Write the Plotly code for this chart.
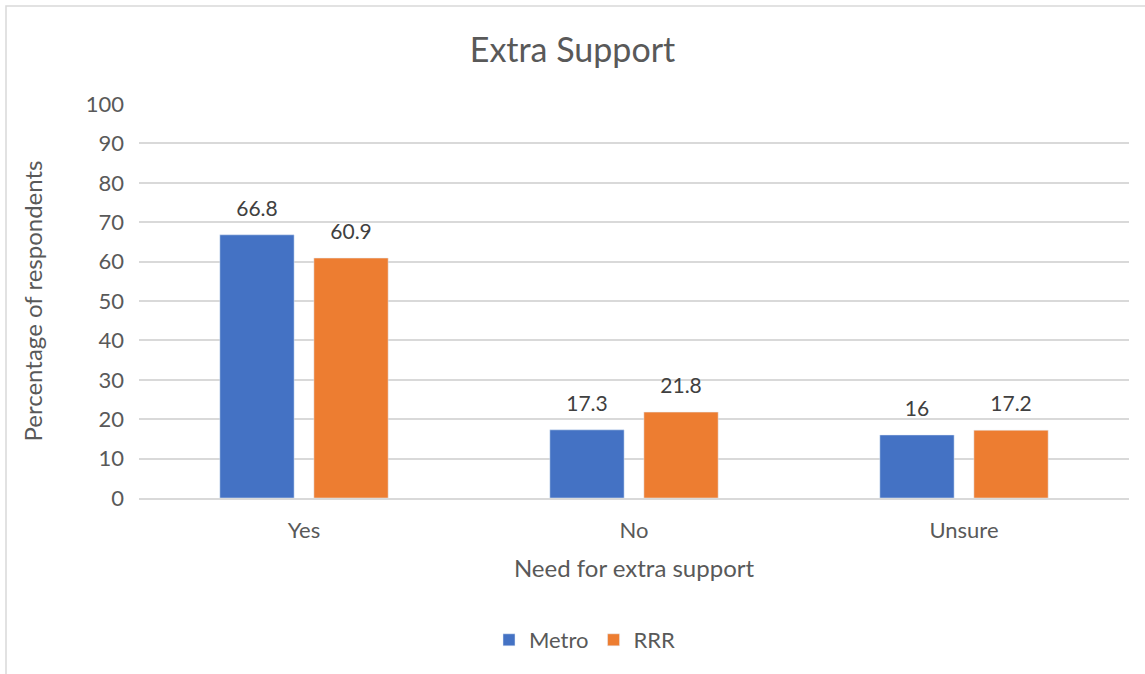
import plotly.graph_objects as go

categories = ["Yes", "No", "Unsure"]
metro = [66.8, 17.3, 16]
rrr = [60.9, 21.8, 17.2]

FONT = "Lato, 'Open Sans', sans-serif"
GREY = "#595959"

W, H = 1145, 674
L, R, T, B = 139, 16, 104, 176
pw, ph = W - L - R, H - T - B

series = [("Metro", metro, "#4472C4"), ("RRR", rrr, "#ED7D31")]

fig = go.Figure()
for name, vals, color in series:
    fig.add_trace(go.Bar(x=categories, y=vals, name=name, marker_color=color,
                         offsetgroup=name))
for name, vals, color in series:
    # value labels: invisible marker pushes the text up off the bar top
    fig.add_trace(go.Scatter(x=categories, y=vals, mode="text+markers", text=vals,
                             textposition="top center", offsetgroup=name,
                             marker=dict(size=20, opacity=0), cliponaxis=False,
                             textfont=dict(size=21, color="#404040"),
                             showlegend=False, hoverinfo="skip"))

# light chart-area border like the Excel frame
fig.add_shape(type="rect", xref="paper", yref="paper",
              x0=(6 - L) / pw, x1=(W + 10 - L) / pw,
              y0=(H - B - (H + 10)) / ph, y1=(H - B - 6) / ph,
              line=dict(color="#d9d9d9", width=1.5), layer="below")

fig.update_layout(
    width=W, height=H,
    margin=dict(l=L, r=R, t=T, b=B),
    paper_bgcolor="white", plot_bgcolor="white",
    font=dict(family=FONT, color=GREY, size=18),
    title=dict(text="Extra Support", x=0.5, xanchor="center", y=1 - 50 / H, yanchor="middle",
               font=dict(size=34, color=GREY)),
    barmode="group", bargap=0.43, bargroupgap=0.21,
    scattermode="group", scattergap=0.43,
    showlegend=True,
    legend=dict(orientation="h", x=(585 - L) / pw, xanchor="center",
                y=-(640 - (H - B)) / ph, yanchor="middle",
                font=dict(size=22, color=GREY)),
    xaxis=dict(title=dict(text="Need for extra support", font=dict(size=24, color=GREY), standoff=18),
               showline=True, linecolor="#d9d9d9", linewidth=2, ticks="",
               ticklabelstandoff=12, tickfont=dict(size=22, color=GREY)),
    yaxis=dict(title=dict(text="Percentage of respondents", font=dict(size=24, color=GREY), standoff=36),
               range=[0, 100], dtick=10, showgrid=True, gridcolor="#d9d9d9", gridwidth=1.5,
               zeroline=False, ticks="", ticklabelstandoff=14,
               tickfont=dict(size=22, color=GREY)),
)

fig.write_html("out.html", config={"displayModeBar": False},
               post_script="document.body.style.margin='0';")
